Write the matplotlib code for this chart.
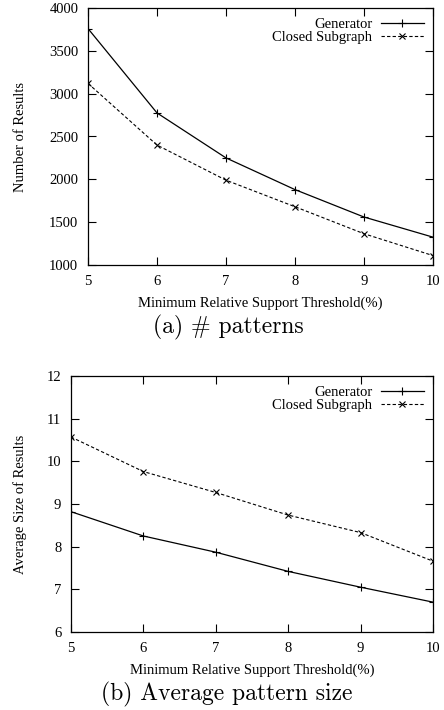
import matplotlib
matplotlib.use("Agg")
import matplotlib.pyplot as plt

thresholds = [5, 6, 7, 8, 9, 10]
gen_count = [3760, 2775, 2250, 1880, 1560, 1325]
closed_count = [3120, 2400, 1990, 1680, 1365, 1110]
gen_size = [8.82, 8.25, 7.87, 7.42, 7.05, 6.70]
closed_size = [10.57, 9.76, 9.27, 8.74, 8.33, 7.66]
xlabel = "Minimum Relative Support Threshold(%)"
captions = ["(a) # patterns", "(b) Average pattern size"]

plt.rcParams['font.family'] = ['Liberation Serif', 'DejaVu Serif']

fig = plt.figure(figsize=(4.44, 7.10), dpi=100)
W, H = 444, 710

def ax_rect(l, t, r, b):
    return [l / W, 1 - b / H, (r - l) / W, (b - t) / H]

ax1 = fig.add_axes(ax_rect(88, 8, 433, 265))
ax2 = fig.add_axes(ax_rect(71, 376, 433, 632))

def style(ax, ylab, yticks, ylim, left_px, width_px, height_px):
    ax.set_xlim(5, 10)
    ax.set_ylim(*ylim)
    ax.set_xticks(thresholds)
    ax.set_yticks(yticks)
    ax.tick_params(direction='in', top=True, right=True, labelsize=10.5, length=5.5, width=0.8)
    ax.tick_params(axis='x', pad=7)
    ax.tick_params(axis='y', pad=7)
    for s in ax.spines.values():
        s.set_linewidth(0.9)
    ax.set_ylabel(ylab, fontsize=10.5)
    ax.yaxis.set_label_coords((20 - left_px) / width_px, 0.5)
    ax.yaxis.label.set_va('center')
    ax.set_xlabel(xlabel, fontsize=10.5)
    ax.xaxis.set_label_coords(0.5, -38 / height_px)
    ax.xaxis.label.set_va('center')
    ax.legend(loc='upper right', frameon=False, markerfirst=False, fontsize=10.5,
              handlelength=2.9, handletextpad=0.6, borderaxespad=0.35, borderpad=0.3,
              labelspacing=0.0)

ax1.plot(thresholds, gen_count, color='black', lw=0.9, marker='+', ms=5.5, mew=0.8, label='Generator')
ax1.plot(thresholds, closed_count, color='black', lw=0.8, ls=(0, (3, 2)), marker='x', ms=4.5, mew=0.8, label='Closed Subgraph')
style(ax1, "Number of Results", [1000, 1500, 2000, 2500, 3000, 3500, 4000], (1000, 4000), 88, 345, 257)

ax2.plot(thresholds, gen_size, color='black', lw=0.9, marker='+', ms=5.5, mew=0.8, label='Generator')
ax2.plot(thresholds, closed_size, color='black', lw=0.8, ls=(0, (3, 2)), marker='x', ms=4.5, mew=0.8, label='Closed Subgraph')
style(ax2, "Average Size of Results", [6, 7, 8, 9, 10, 11, 12], (6, 12), 71, 362, 256)

fig.text(228 / W, 1 - 327 / H, captions[0], ha='center', va='center', fontsize=17, family=['cmr10', 'DejaVu Serif'])
fig.text(227 / W, 1 - 694 / H, captions[1], ha='center', va='center', fontsize=17, family=['cmr10', 'DejaVu Serif'])

fig.savefig("out.png", dpi=100)
